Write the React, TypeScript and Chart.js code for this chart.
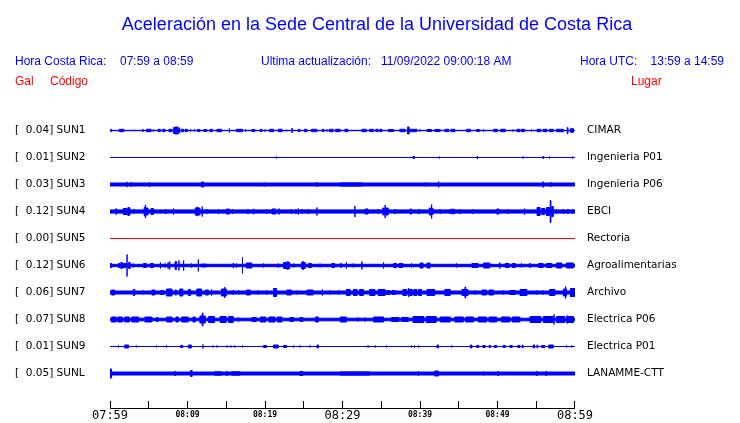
import { useEffect, useRef } from "react";
import { Chart, registerables } from "chart.js";

Chart.register(...registerables);

type Burst = [number, number, number]; // [start minute, end minute, half-amplitude in Gal]

const TITLE = "Aceleración en la Sede Central de la Universidad de Costa Rica";
const HOUR_CR = "07:59 a 08:59";
const HOUR_UTC = "13:59 a 14:59";
const UPDATED = "11/09/2022 09:00:18 AM";

const CODES = ["SUN1", "SUN2", "SUN3", "SUN4", "SUN5", "SUN6", "SUN7", "SUN8", "SUN9", "SUNL"];
const PEAKS = [0.04, 0.01, 0.03, 0.12, 0.0, 0.12, 0.06, 0.07, 0.01, 0.05];
const PLACES = [
  "CIMAR",
  "Ingenieria P01",
  "Ingenieria P06",
  "EBCI",
  "Rectoria",
  "Agroalimentarias",
  "Archivo",
  "Electrica P06",
  "Electrica P01",
  "LANAMME-CTT",
];
const FLOORS = [0.002, 0, 0.015, 0.016, 0, 0.012, 0.015, 0.013, 0, 0.015];
const TRACE_COLORS = ["#0000ff", "#0000ff", "#0000ff", "#0000ff", "#ff0000", "#0000ff", "#0000ff", "#0000ff", "#0000ff", "#0000ff"];
const X_TICK_LABELS = ["07:59", "", "08:09", "", "08:19", "", "08:29", "", "08:39", "", "08:49", "", "08:59"];
const MAJOR_TICKS = [0, 30, 60];

const SUN1_BURSTS: Burst[] = [
  [0.1, 0.2, 0.012], [1.2, 1.8, 0.012], [3.1, 3.1, 0.007], [4.2, 4.3, 0.01], [4.7, 5.3, 0.012], [5.6, 5.6, 0.01],
  [6.2, 6.5, 0.012], [6.8, 7.1, 0.012], [7.6, 8.0, 0.012], [8.2, 8.4, 0.03], [8.5, 8.5, 0.04], [8.6, 8.8, 0.035],
  [8.9, 9.0, 0.025], [9.2, 9.5, 0.012], [9.7, 10.0, 0.012], [10.4, 10.4, 0.01], [10.9, 10.9, 0.01], [11.3, 11.6, 0.01],
  [12.1, 12.5, 0.01], [12.9, 13.2, 0.012], [13.8, 14.4, 0.012], [15.4, 15.4, 0.02], [16.3, 17.1, 0.012], [17.5, 17.5, 0.01],
  [18.3, 18.7, 0.01], [19.4, 19.6, 0.012], [20.0, 20.0, 0.01], [20.6, 21.1, 0.012], [21.7, 22.2, 0.012], [22.8, 22.8, 0.007],
  [23.5, 23.5, 0.025], [24.3, 24.5, 0.012], [25.1, 25.4, 0.012], [26.0, 26.7, 0.012], [27.4, 27.6, 0.012], [28.0, 28.0, 0.01],
  [28.3, 28.8, 0.012], [29.1, 29.7, 0.012], [30.3, 30.7, 0.012], [32.5, 33.1, 0.012], [33.5, 34.0, 0.012], [34.3, 34.6, 0.012],
  [34.8, 35.1, 0.012], [35.9, 36.6, 0.01], [37.4, 38.1, 0.012], [38.4, 38.6, 0.035], [38.7, 39.6, 0.012], [40.0, 40.0, 0.01],
  [40.9, 41.5, 0.01], [41.9, 42.6, 0.01], [43.2, 43.7, 0.012], [44.0, 44.5, 0.012], [46.0, 46.5, 0.012], [47.3, 47.7, 0.01],
  [48.2, 48.2, 0.01], [49.5, 50.0, 0.012], [50.4, 51.0, 0.012], [52.0, 52.0, 0.01], [52.5, 52.9, 0.012], [53.1, 53.5, 0.012],
  [54.4, 54.4, 0.01], [55.1, 55.6, 0.012], [55.9, 56.4, 0.012], [56.7, 57.2, 0.012], [57.6, 58.5, 0.012], [59.0, 59.1, 0.03],
  [59.4, 59.8, 0.018],
];
const SUN2_BURSTS: Burst[] = [
  [21.5, 21.5, 0.01], [39.1, 39.3, 0.01], [42.5, 42.5, 0.01], [47.4, 47.4, 0.015], [53.3, 53.3, 0.01],
  [55.9, 55.9, 0.015], [56.7, 56.7, 0.01], [59.7, 59.7, 0.01],
];
const SUN3_BURSTS: Burst[] = [
  [2.2, 2.2, 0.027], [2.75, 2.75, 0.025], [5.1, 5.1, 0.025], [11.8, 12.1, 0.025], [19.9, 19.9, 0.02], [26.7, 26.7, 0.025],
  [29.7, 32.5, 0.017], [40.8, 40.8, 0.02], [42.4, 42.4, 0.03], [55.9, 55.9, 0.03], [56.9, 56.9, 0.025],
];
const SUN4_BURSTS: Burst[] = [
  [0.7, 0.9, 0.022], [0.8, 0.8, 0.03], [1.7, 2.2, 0.03], [2.3, 2.5, 0.04], [2.5, 2.6, 0.03], [3.1, 3.1, 0.025],
  [4.4, 4.5, 0.04], [4.55, 4.6, 0.065], [4.6, 4.9, 0.035], [5.3, 5.6, 0.03], [7.2, 7.2, 0.025], [8.2, 8.2, 0.03],
  [11.0, 11.6, 0.035], [11.2, 11.3, 0.045], [11.9, 11.9, 0.05], [12.5, 12.5, 0.025], [14.0, 14.0, 0.025], [15.0, 15.4, 0.025],
  [15.8, 15.8, 0.025], [17.8, 17.8, 0.025], [18.5, 18.6, 0.025], [20.2, 20.2, 0.025], [20.9, 21.4, 0.025], [21.8, 21.8, 0.03],
  [23.4, 23.4, 0.025], [24.0, 24.0, 0.025], [24.3, 24.3, 0.03], [24.8, 24.8, 0.025], [25.6, 25.6, 0.025], [26.7, 26.7, 0.04],
  [31.6, 31.6, 0.055], [32.9, 33.3, 0.025], [34.6, 34.6, 0.025], [35.2, 35.4, 0.035], [35.5, 35.5, 0.065], [35.6, 35.9, 0.035],
  [36.8, 36.8, 0.025], [38.7, 38.9, 0.025], [39.9, 39.9, 0.025], [41.2, 41.4, 0.035], [41.5, 41.5, 0.07], [41.6, 41.7, 0.03],
  [42.6, 42.6, 0.025], [43.9, 44.5, 0.022], [45.2, 45.2, 0.025], [46.8, 46.8, 0.025], [49.9, 50.2, 0.025], [51.4, 51.4, 0.025],
  [53.5, 53.5, 0.03], [55.1, 55.5, 0.04], [55.7, 56.1, 0.03], [56.3, 56.7, 0.04], [56.8, 56.9, 0.11], [57.0, 57.2, 0.05],
  [57.6, 57.6, 0.025], [58.5, 58.5, 0.025], [59.1, 59.1, 0.025], [59.7, 59.7, 0.025],
];
const SUN5_BURSTS: Burst[] = [];
const SUN6_BURSTS: Burst[] = [
  [0, 0.2, 0.02], [1.1, 1.3, 0.02], [1.4, 1.6, 0.03], [1.7, 2.1, 0.02], [2.2, 2.2, 0.11], [2.4, 2.6, 0.03], [3.0, 3.0, 0.02],
  [4.3, 4.7, 0.02], [5.2, 5.6, 0.02], [6.5, 6.5, 0.03], [7.1, 7.1, 0.02], [7.5, 7.5, 0.03], [7.7, 7.7, 0.04], [8.4, 8.6, 0.04],
  [8.9, 8.9, 0.05], [9.5, 9.5, 0.05], [10.5, 10.5, 0.02], [11.4, 11.4, 0.06], [11.8, 12.5, 0.015], [15.9, 15.9, 0.025],
  [16.3, 16.3, 0.02], [17.1, 17.1, 0.08], [17.6, 18.3, 0.025], [19.8, 19.8, 0.02], [21.7, 21.7, 0.02], [22.4, 23.2, 0.03],
  [22.9, 23.0, 0.04], [23.7, 23.7, 0.02], [24.7, 25.2, 0.03], [24.9, 24.9, 0.045], [25.6, 26.0, 0.02], [27.1, 27.1, 0.02],
  [28.6, 29.0, 0.02], [29.8, 29.8, 0.025], [30.5, 30.5, 0.03], [31.4, 31.4, 0.02], [32.5, 32.5, 0.04], [35.3, 35.3, 0.03],
  [36.6, 37.0, 0.02], [37.3, 37.8, 0.02], [38.9, 38.9, 0.02], [40.0, 40.4, 0.025], [40.9, 41.3, 0.025], [44.7, 44.7, 0.02],
  [46.7, 47.5, 0.02], [48.2, 49.0, 0.025], [50.3, 50.3, 0.03], [51.0, 51.5, 0.02], [51.9, 52.3, 0.02], [53.1, 53.1, 0.02],
  [54.2, 54.2, 0.025], [55.3, 55.9, 0.02], [56.3, 57.0, 0.02], [57.6, 58.3, 0.025], [58.9, 59.8, 0.025],
];
const SUN7_BURSTS: Burst[] = [
  [0.2, 0.6, 0.025], [3.0, 3.2, 0.03], [4.3, 4.3, 0.02], [5.4, 5.8, 0.025], [6.5, 6.9, 0.02], [7.3, 8.0, 0.035],
  [8.4, 8.6, 0.025], [9.0, 9.4, 0.035], [10.1, 10.4, 0.03], [11.2, 11.8, 0.035], [12.3, 12.7, 0.025], [13.1, 13.1, 0.03],
  [14.4, 15.0, 0.035], [14.8, 14.8, 0.055], [15.9, 15.9, 0.025], [16.6, 16.6, 0.02], [17.6, 18.1, 0.025], [19.1, 19.1, 0.02],
  [20.2, 20.2, 0.02], [21.1, 21.5, 0.04], [22.8, 23.4, 0.025], [24.1, 24.1, 0.02], [25.4, 26.2, 0.025], [27.4, 27.4, 0.03],
  [28.4, 28.4, 0.02], [29.5, 29.5, 0.02], [30.5, 31.0, 0.03], [31.4, 31.9, 0.03], [32.2, 32.7, 0.03], [33.5, 34.2, 0.03],
  [34.6, 35.5, 0.03], [35.7, 36.1, 0.02], [36.4, 36.8, 0.02], [37.8, 38.3, 0.03], [38.5, 38.6, 0.04], [38.7, 39.0, 0.03],
  [39.2, 39.6, 0.03], [39.8, 40.2, 0.03], [40.9, 41.9, 0.03], [43.2, 43.9, 0.03], [45.4, 46.2, 0.03], [45.8, 45.9, 0.055],
  [47.1, 47.1, 0.02], [48.0, 48.6, 0.025], [48.9, 49.5, 0.025], [50.7, 50.7, 0.02], [51.6, 52.3, 0.02], [52.9, 53.8, 0.03],
  [55.1, 55.1, 0.02], [55.9, 55.9, 0.02], [56.7, 57.4, 0.03], [58.5, 58.9, 0.035], [58.8, 58.8, 0.06], [59.4, 60, 0.04],
];
const SUN8_BURSTS: Burst[] = [
  [0.2, 0.8, 0.025], [1.0, 1.6, 0.025], [1.9, 2.5, 0.025], [2.8, 3.7, 0.025], [4.5, 5.4, 0.025], [6.0, 6.2, 0.02],
  [7.3, 8.0, 0.025], [8.5, 8.8, 0.025], [9.25, 10.1, 0.025], [10.7, 11.0, 0.025], [11.6, 12.3, 0.035], [11.9, 12.0, 0.065],
  [12.7, 13.5, 0.03], [14.2, 15.0, 0.03], [15.3, 15.9, 0.03], [16.6, 16.6, 0.02], [18.3, 18.9, 0.02], [19.4, 20.1, 0.025],
  [20.5, 21.3, 0.025], [21.6, 22.2, 0.025], [23.2, 23.7, 0.02], [24.5, 24.9, 0.02], [26.5, 26.9, 0.025], [29.7, 30.5, 0.025],
  [32.0, 32.0, 0.02], [32.9, 32.9, 0.02], [34.0, 35.3, 0.025], [36.3, 37.3, 0.02], [37.6, 38.5, 0.02], [39.1, 40.5, 0.03],
  [40.8, 42.1, 0.03], [42.6, 43.9, 0.025], [44.5, 45.6, 0.025], [45.9, 46.9, 0.025], [47.5, 48.6, 0.025], [48.9, 49.9, 0.025],
  [50.5, 51.6, 0.025], [51.9, 52.9, 0.025], [54.2, 55.6, 0.03], [55.9, 57.2, 0.03], [57.3, 57.3, 0.05], [57.6, 58.7, 0.03],
  [58.9, 59.8, 0.03], [59.0, 59.0, 0.04],
];
const SUN9_BURSTS: Burst[] = [
  [1.1, 1.1, 0.01], [1.9, 2.4, 0.015], [3.4, 3.4, 0.01], [6.0, 6.0, 0.01], [7.3, 7.3, 0.01], [8.5, 8.5, 0.005],
  [9.1, 9.4, 0.01], [10.1, 10.5, 0.015], [12.0, 12.0, 0.02], [13.3, 13.3, 0.01], [13.8, 13.8, 0.01], [15.1, 15.1, 0.01],
  [15.6, 15.6, 0.01], [16.1, 16.1, 0.01], [17.1, 17.1, 0.01], [19.8, 20.2, 0.01], [21.1, 21.7, 0.015], [22.4, 22.8, 0.01],
  [23.7, 23.7, 0.01], [24.5, 24.5, 0.01], [25.8, 25.8, 0.01], [26.7, 26.9, 0.015], [33.3, 33.3, 0.01], [34.2, 34.2, 0.01],
  [35.7, 35.7, 0.01], [38.9, 38.9, 0.01], [39.3, 39.3, 0.01], [39.8, 39.8, 0.01], [41.1, 41.1, 0.005], [42.2, 42.4, 0.015],
  [44.1, 44.1, 0.01], [46.5, 46.7, 0.015], [47.3, 47.6, 0.01], [48.1, 48.4, 0.01], [48.9, 49.1, 0.01], [49.6, 49.9, 0.01],
  [50.7, 51.0, 0.01], [51.6, 51.9, 0.01], [52.6, 52.9, 0.01], [53.2, 53.3, 0.015], [54.6, 54.8, 0.015], [55.1, 55.2, 0.015],
  [55.7, 56.1, 0.01], [56.6, 57.2, 0.015], [58.9, 58.9, 0.01], [59.6, 59.6, 0.01],
];
const SUNL_BURSTS: Burst[] = [
  [0, 0.2, 0.045], [8.4, 8.4, 0.025], [10.4, 10.6, 0.03], [13.5, 14.4, 0.018], [15.1, 15.1, 0.025], [15.7, 16.8, 0.018],
  [24.5, 24.9, 0.02], [29.7, 33.5, 0.017], [39.8, 39.8, 0.025], [41.9, 42.4, 0.025], [48.2, 48.2, 0.02], [50.1, 50.1, 0.025],
  [55.1, 55.1, 0.025], [56.3, 56.3, 0.025],
];

const STATION_BURSTS = [
  SUN1_BURSTS, SUN2_BURSTS, SUN3_BURSTS, SUN4_BURSTS, SUN5_BURSTS,
  SUN6_BURSTS, SUN7_BURSTS, SUN8_BURSTS, SUN9_BURSTS, SUNL_BURSTS,
];

// layout constants (not data)
const ROW_GAL = 0.27;
const Y_MAX = 0.275;
const Y_MIN = -2.785;
const T_MIN = 0;
const T_MAX = 60;
const BLUE = "#0000ff";
const RED = "#ff0000";

function envelope(bursts: Burst[], floor: number) {
  const cuts = Array.from(new Set([T_MIN, T_MAX, ...bursts.flatMap((b) => [b[0], b[1]])])).sort((a, b) => a - b);
  const level = (t: number) =>
    bursts.reduce((m, [a0, a1, amp]) => (a0 <= t && t < a1 ? Math.max(m, amp) : m), floor);
  const pts: { x: number; a: number }[] = [];
  for (const c of cuts) {
    const spike = bursts.reduce((m, [a0, a1, amp]) => (a0 === c && a1 === c ? Math.max(m, amp) : m), 0);
    const lv = level(c);
    if (spike > lv) pts.push({ x: c, a: spike });
    pts.push({ x: c, a: lv });
  }
  return pts;
}

const headerPlugin = {
  id: "headerText",
  afterDraw(chart: any) {
    const ctx = chart.ctx as CanvasRenderingContext2D;
    ctx.save();
    ctx.textBaseline = "alphabetic";
    ctx.fillStyle = BLUE;
    ctx.textAlign = "center";
    ctx.font = '18px "Liberation Sans", Arial, sans-serif';
    ctx.fillText(TITLE, 377, 30);
    ctx.textAlign = "left";
    ctx.font = '12px "Liberation Sans", Arial, sans-serif';
    ctx.fillText("Hora Costa Rica:", 15, 65);
    ctx.fillText(HOUR_CR, 120, 65);
    ctx.fillText("Ultima actualización:", 261, 65);
    ctx.fillText(UPDATED, 381, 65);
    ctx.fillText("Hora UTC:", 580, 65);
    ctx.textAlign = "right";
    ctx.fillText(HOUR_UTC, 724, 65);
    ctx.textAlign = "left";
    ctx.fillStyle = RED;
    ctx.fillText("Gal", 15, 85);
    ctx.fillText("Código", 50, 85);
    ctx.fillText("Lugar", 631, 85);
    ctx.restore();
  },
};

const timeAxisPlugin = {
  id: "timeAxisMarks",
  afterDraw(chart: any) {
    const ctx = chart.ctx as CanvasRenderingContext2D;
    const xs = chart.scales.x;
    const bottom = chart.chartArea.bottom;
    ctx.save();
    ctx.strokeStyle = "#000";
    ctx.lineWidth = 1;
    ctx.beginPath();
    ctx.moveTo(xs.left, bottom - 0.5);
    ctx.lineTo(xs.right, bottom - 0.5);
    for (const t of xs.ticks) {
      const px = Math.min(Math.floor(xs.getPixelForValue(t.value)), Math.floor(xs.right) - 1) + 0.5;
      ctx.moveTo(px, bottom - 8);
      ctx.lineTo(px, bottom);
    }
    ctx.stroke();
    ctx.restore();
  },
};

export default function App() {
  const canvasRef = useRef<HTMLCanvasElement | null>(null);

  useEffect(() => {
    if (!canvasRef.current) return;
    const datasets: any[] = [];
    CODES.forEach((code, i) => {
      const base = -ROW_GAL * i;
      const env = envelope(STATION_BURSTS[i], FLOORS[i]);
      const color = TRACE_COLORS[i];
      const common = {
        borderColor: color,
        backgroundColor: color,
        borderWidth: 1,
        pointRadius: 0,
        pointHoverRadius: 0,
        pointBorderWidth: 0,
        stepped: "before",
        tension: 0,
      };
      datasets.push({ ...common, label: code + " +", data: env.map((p) => ({ x: p.x, y: base + p.a })), fill: "+1" });
      datasets.push({ ...common, label: code + " -", data: env.map((p) => ({ x: p.x, y: base - p.a })), fill: false });
    });

    const stationIndex = (v: number) => Math.round(-v / ROW_GAL);
    const stationTicks = () => CODES.map((_, i) => ({ value: -ROW_GAL * i }));
    const fitWidth = (w: number) => (s: any) => {
      s.width = w;
      s.paddingTop = 0;
      s.paddingBottom = 0;
    };

    const chart = new Chart(canvasRef.current, {
      type: "line",
      data: { datasets },
      plugins: [headerPlugin, timeAxisPlugin],
      options: {
        animation: false,
        responsive: false,
        events: [],
        layout: { autoPadding: false, padding: { top: 103, left: 15, right: 0, bottom: 0 } },
        plugins: { legend: { display: false }, tooltip: { enabled: false }, title: { display: false } },
        scales: {
          x: {
            type: "linear",
            min: T_MIN,
            max: T_MAX,
            offset: false,
            grid: { display: false, drawTicks: false, tickLength: 0 },
            border: { display: false },
            afterFit: (s: any) => {
              s.height = 14;
              s.paddingLeft = 0;
              s.paddingRight = 0;
            },
            ticks: {
              stepSize: 5,
              autoSkip: false,
              maxRotation: 0,
              padding: 0,
              color: "#000",
              callback: (v: any) => X_TICK_LABELS[Math.round(Number(v) / 5)] ?? "",
              font: (c: any) => {
                const v = c.tick ? Math.round(c.tick.value) : 0;
                return MAJOR_TICKS.includes(v)
                  ? { family: '"DejaVu Sans Mono", monospace', size: 12, lineHeight: "13px" }
                  : { family: '"DejaVu Sans Mono", monospace', size: 8, weight: "bold", lineHeight: "11px" };
              },
            },
          },
          y: {
            type: "linear",
            position: "left",
            min: Y_MIN,
            max: Y_MAX,
            grid: { display: false, drawTicks: false, tickLength: 0 },
            border: { display: false },
            afterBuildTicks: (s: any) => {
              s.ticks = stationTicks();
            },
            afterFit: fitWidth(95),
            ticks: {
              autoSkip: false,
              crossAlign: "far",
              padding: 0,
              color: "#000",
              font: { family: '"DejaVu Sans", sans-serif', size: 10.5 },
              callback: (v: any) => {
                const i = stationIndex(Number(v));
                return `[  ${PEAKS[i].toFixed(2)}] ${CODES[i]}`;
              },
            },
          },
          y2: {
            type: "linear",
            position: "right",
            min: Y_MIN,
            max: Y_MAX,
            grid: { display: false, drawTicks: false, tickLength: 0 },
            border: { display: false },
            afterBuildTicks: (s: any) => {
              s.ticks = stationTicks();
            },
            afterFit: fitWidth(165),
            ticks: {
              autoSkip: false,
              crossAlign: "near",
              padding: 12,
              color: "#000",
              font: { family: '"DejaVu Sans", sans-serif', size: 10.5 },
              callback: (v: any) => PLACES[stationIndex(Number(v))],
            },
          },
        },
      } as any,
    });
    return () => chart.destroy();
  }, []);

  return (
    <div style={{ position: "absolute", left: 0, top: 0, width: 740, height: 423, background: "#fff" }}>
      <canvas ref={canvasRef} width={740} height={423} style={{ display: "block", width: 740, height: 423 }} />
    </div>
  );
}
